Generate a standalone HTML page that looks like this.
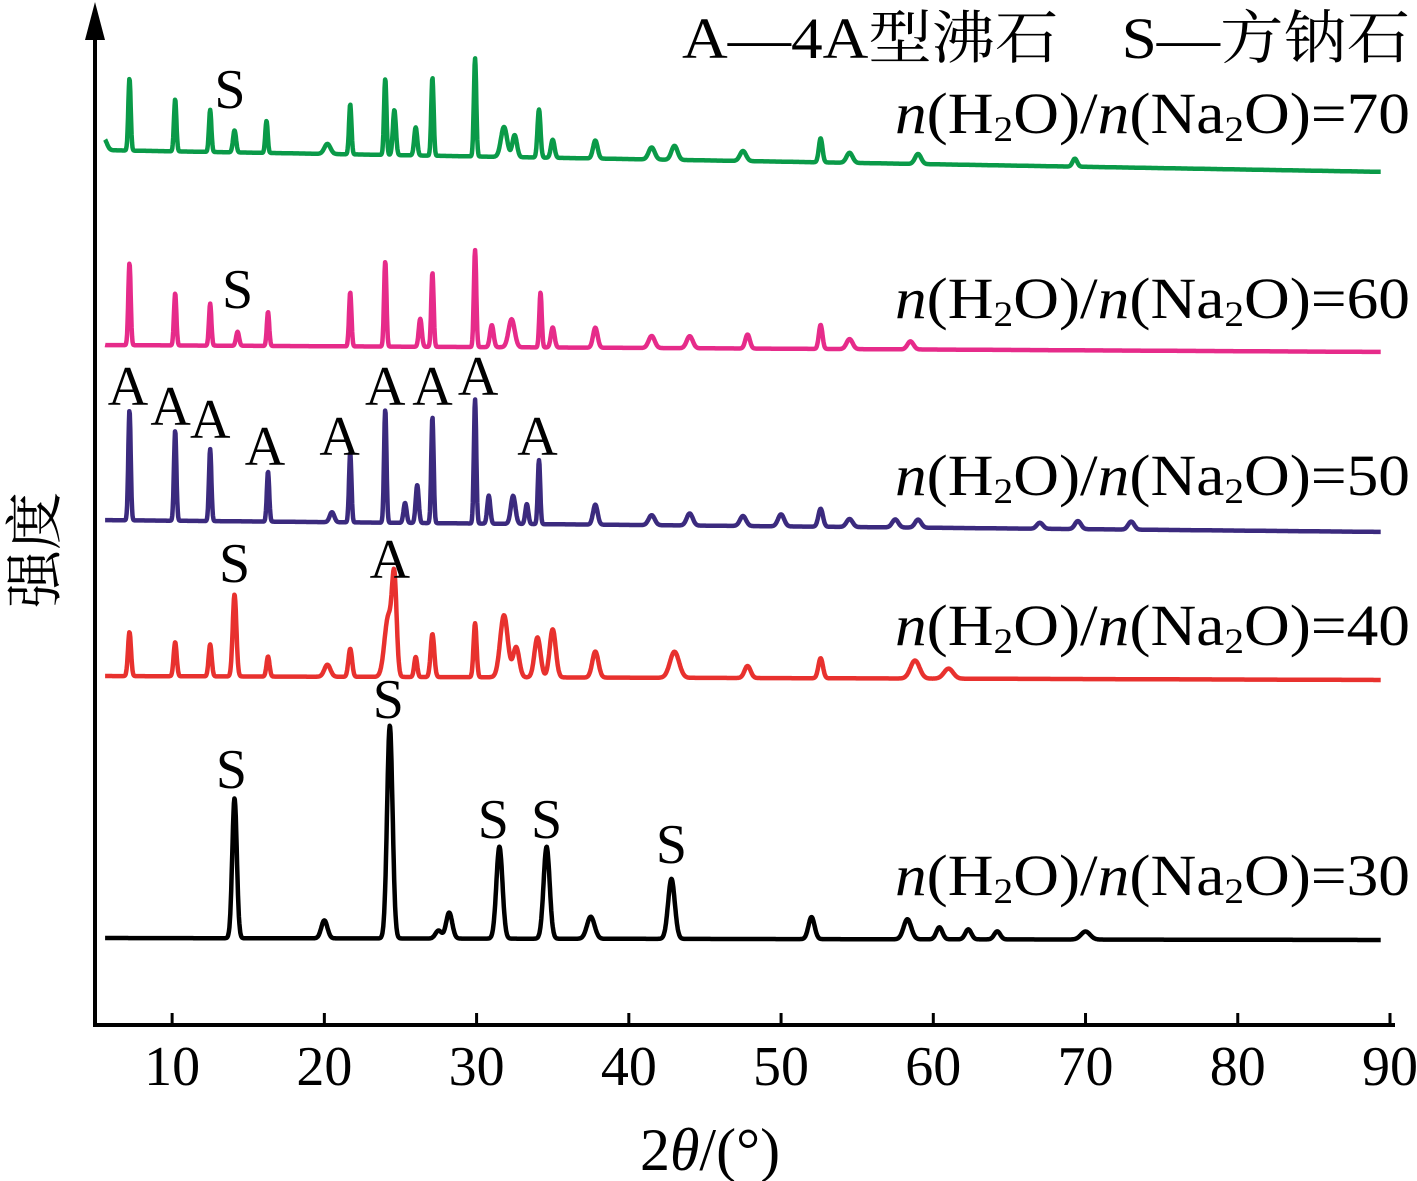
<!DOCTYPE html>
<html><head><meta charset="utf-8"><style>
html,body{margin:0;padding:0;background:#fff;}
svg{display:block;font-family:"Liberation Serif","Noto Serif CJK SC",serif;}
</style></head><body>
<svg id="chart" width="1417" height="1181" viewBox="0 0 1417 1181" xmlns="http://www.w3.org/2000/svg">
<g id="axes">
<line x1="95" y1="1025" x2="1395" y2="1025" stroke="#000" stroke-width="4"/>
<line x1="95" y1="1027" x2="95" y2="30" stroke="#000" stroke-width="4"/>
<polygon points="95,2 85,40 105,40" fill="#000"/>
</g>
<g id="ticks"></g>
<g id="series"></g>
<g id="labels" fill="#000">
<text x="1410" y="58" text-anchor="end" font-size="58" textLength="728" lengthAdjust="spacingAndGlyphs">A—4A型沸石　S—方钠石</text>
<text x="710" y="1170" text-anchor="middle" font-size="60">2<tspan font-style="italic">θ</tspan>/(°)</text>
<text transform="translate(55,550) rotate(-90)" text-anchor="middle" font-size="58">强度</text>
</g>
</svg>
<script>
const xTicks=[10,20,30,40,50,60,70,80,90];
const seriesNames=["30","40","50","60","70"];
const seriesColors=["#000000","#e8312e","#3b2a7e","#e62b8a","#0a9a48"];
const baseStart=[938,676,520,345,150];
const baseEnd=[940,680,532,352,172];
// peaks: [2theta, height(px above baseline), width(deg)]
const peaks30=[[14.1,140,0.15],[20,18,0.2],[24.3,213,0.18],[27.5,8,0.2],[28.2,26,0.2],[31.5,92,0.2],[34.6,92,0.2],[37.5,22,0.25],[42.8,60,0.22],[52,22,0.2],[58.3,20,0.25],[60.4,12,0.2],[62.3,10,0.2],[64.2,8,0.2],[70,8,0.3]];
const peaks40=[[7.2,44,0.1],[10.2,34,0.1],[12.5,32,0.1],[14.1,82,0.12],[16.3,20,0.1],[20.2,12,0.2],[21.7,28,0.12],[24.2,60,0.25],[24.6,90,0.15],[26,20,0.1],[27.1,43,0.12],[29.9,54,0.1],[31.8,62,0.25],[32.6,30,0.2],[34,40,0.2],[35,48,0.2],[37.8,26,0.2],[43,26,0.3],[47.8,12,0.2],[52.6,20,0.15],[58.8,18,0.3],[61,10,0.3]];
const peaks50=[[7.2,110,0.08],[10.2,90,0.08],[12.5,72,0.08],[16.3,50,0.08],[20.5,10,0.15],[21.7,70,0.08],[24,113,0.08],[25.3,20,0.1],[26.1,38,0.1],[27.1,106,0.08],[29.9,124,0.08],[30.8,28,0.1],[32.4,28,0.15],[33.3,20,0.1],[34.1,64,0.08],[37.8,20,0.15],[41.5,10,0.2],[44,12,0.2],[47.5,10,0.2],[50,12,0.2],[52.6,18,0.15],[54.5,8,0.2],[57.5,8,0.2],[59,8,0.2],[67,6,0.2],[69.5,8,0.2],[73,8,0.2]];
const peaks60=[[7.2,82,0.08],[10.2,52,0.08],[12.5,42,0.08],[14.3,14,0.1],[16.3,34,0.08],[21.7,54,0.08],[24,85,0.08],[26.3,28,0.1],[27.1,74,0.08],[29.9,97,0.08],[31,22,0.12],[32.3,28,0.2],[34.2,55,0.08],[35,20,0.12],[37.8,20,0.15],[41.5,12,0.2],[44,12,0.2],[47.8,14,0.15],[52.6,24,0.12],[54.5,10,0.2],[58.5,8,0.2]];
const peaks70=[[5.5,12,0.2],[7.2,72,0.08],[10.2,52,0.08],[12.5,42,0.08],[14.1,22,0.1],[16.2,32,0.08],[20.2,10,0.2],[21.7,50,0.08],[24,76,0.08],[24.6,45,0.1],[26,28,0.1],[27.1,78,0.08],[29.9,98,0.08],[31.8,30,0.2],[32.5,22,0.15],[34.1,48,0.1],[35,18,0.12],[37.8,18,0.15],[41.5,12,0.2],[43,14,0.2],[47.5,10,0.2],[52.6,24,0.12],[54.5,10,0.2],[59,10,0.2],[69.3,8,0.15]];
const allPeaks=[peaks30,peaks40,peaks50,peaks60,peaks70];
const labelY=[895,645,495,318,133];
const peakLetters=["S","S","A","A","A","A","A","A","A","A","A","S","A","S","S","S","S","S"];
const letterX=[13.8,14.3,7.1,9.9,12.5,16.1,21,24,27.1,30.1,34.0,14.1,24.3,24.2,13.9,31.1,34.6,42.8];
const letterY=[108,308,405,425,438,465,455,405,405,395,455,582,578,718,788,838,838,863];
const NS="http://www.w3.org/2000/svg";
const X0=5,X1=90,PX0=96,PX1=1390;
function xs(v){return PX0+(v-X0)*(PX1-PX0)/(X1-X0);}
const tg=document.getElementById('ticks');
xTicks.forEach(t=>{
  const l=document.createElementNS(NS,'line');
  
  
  l.setAttribute('x1',xs(t));l.setAttribute('x2',xs(t));
  l.setAttribute('y1',1025);l.setAttribute('y2',1013);
  l.setAttribute('stroke','#000');l.setAttribute('stroke-width',3);
  tg.appendChild(l);
  const tx=document.createElementNS(NS,'text');
  
  
  tx.setAttribute('x',xs(t));tx.setAttribute('y',1085);
  tx.setAttribute('text-anchor','middle');tx.setAttribute('font-size','56');
  tx.textContent=t;tg.appendChild(tx);
});
const sg=document.getElementById('series');
allPeaks.forEach((pk,i)=>{
  let d='';
  for(let v=X0+0.6;v<=X1-0.6;v+=0.03){
    let b=baseStart[i]+(baseEnd[i]-baseStart[i])*(v-X0)/(X1-X0);
    let h=0;
    pk.forEach(p=>{const z=(v-p[0])/p[2];h+=p[1]*Math.exp(-0.5*z*z);});
    d+=(d?'L':'M')+xs(v).toFixed(1)+','+(b-h).toFixed(1);
  }
  const path=document.createElementNS(NS,'path');
  
  
  path.setAttribute('d',d);path.setAttribute('fill','none');
  path.setAttribute('stroke',seriesColors[i]);path.setAttribute('stroke-width',4.5);
  path.setAttribute('stroke-linejoin','round');
  sg.appendChild(path);
  const tx=document.createElementNS(NS,'text');
  
  
  tx.setAttribute('x',1410);tx.setAttribute('y',labelY[i]);
  tx.setAttribute('text-anchor','end');tx.setAttribute('font-size','58');
  tx.setAttribute('textLength','515');tx.setAttribute('lengthAdjust','spacingAndGlyphs');
  tx.innerHTML='<tspan font-style="italic">n</tspan>(H<tspan font-size="36" dy="8">2</tspan><tspan dy="-8">O)/</tspan><tspan font-style="italic">n</tspan>(Na<tspan font-size="36" dy="8">2</tspan><tspan dy="-8">O)='+seriesNames[i]+'</tspan>';
  sg.appendChild(tx);
});
peakLetters.forEach((c,i)=>{
  const tx=document.createElementNS(NS,'text');
  
  
  tx.setAttribute('x',xs(letterX[i]));tx.setAttribute('y',letterY[i]);
  tx.setAttribute('text-anchor','middle');tx.setAttribute('font-size','56');
  tx.textContent=c;sg.appendChild(tx);
});
</script>
</body></html>
